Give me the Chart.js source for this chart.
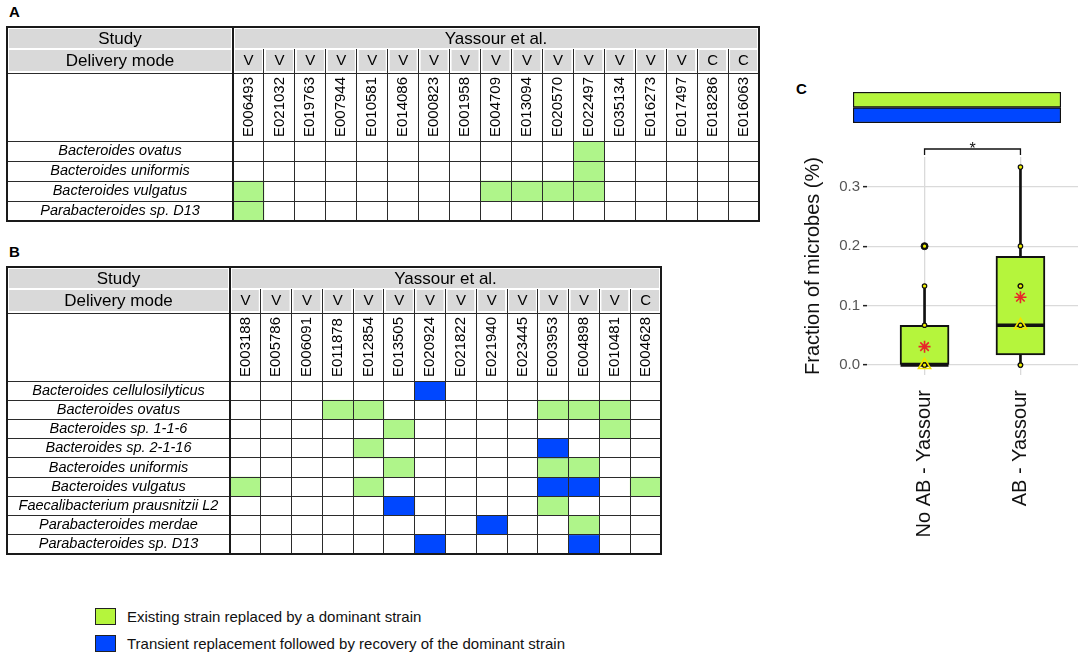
<!DOCTYPE html>
<html>
<head>
<meta charset="utf-8">
<script src="https://cdn.jsdelivr.net/npm/chart.js@4.4.1/dist/chart.umd.min.js"></script>
<style>
  html, body { margin: 0; padding: 0; background: #fff; }
  body { width: 1084px; height: 658px; position: relative; overflow: hidden; font-family: "Liberation Sans", Arial, sans-serif; }
  canvas { position: absolute; }
  .tag { position: absolute; font-weight: bold; font-size: 15px; color: #000; }
  .key { position: absolute; left: 95px; width: 19px; height: 15px; border: 1px solid #222; }
  .keytxt { position: absolute; left: 127px; font-size: 15px; line-height: 18px; color: #111; white-space: nowrap; }
</style>
</head>
<body>
<div class="tag" style="left:9px; top:3px;">A</div>
<div class="tag" style="left:9px; top:243px;">B</div>
<div class="tag" style="left:796px; top:80px;">C</div>

<canvas id="tabA" width="770" height="230" style="left:0; top:0;"></canvas>
<canvas id="tabB" width="680" height="310" style="left:0; top:255px;"></canvas>
<canvas id="strip" width="215" height="40" style="left:850px; top:88px;"></canvas>
<canvas id="box" width="304" height="530" style="left:780px; top:60px;"></canvas>

<div class="key" style="top:608px; background:#b5f53c;"></div>
<div class="keytxt" style="top:608px;">Existing strain replaced by a dominant strain</div>
<div class="key" style="top:635px; background:#0046ff;"></div>
<div class="keytxt" style="top:635px;">Transient replacement followed by recovery of the dominant strain</div>

<script>
Chart.defaults.font.family = '"Liberation Sans", Arial, sans-serif';
Chart.defaults.color = '#000';

// * Tabela A
const samplesA = ['E006493', 'E021032', 'E019763', 'E007944', 'E010581', 'E014086', 'E000823', 'E001958',
  'E004709', 'E013094', 'E020570', 'E022497', 'E035134', 'E016273', 'E017497', 'E018286', 'E016063'];
const deliveryA = ['V', 'V', 'V', 'V', 'V', 'V', 'V', 'V', 'V', 'V', 'V', 'V', 'V', 'V', 'V', 'C', 'C'];
const speciesA = ['Bacteroides ovatus', 'Bacteroides uniformis', 'Bacteroides vulgatus', 'Parabacteroides sp. D13'];
// 0 = nada, 1 = substituida por cepa dominante, 2 = substituicao transitoria
const statusA = [
  [0, 0, 0, 0, 0, 0, 0, 0, 0, 0, 0, 1, 0, 0, 0, 0, 0],
  [0, 0, 0, 0, 0, 0, 0, 0, 0, 0, 0, 1, 0, 0, 0, 0, 0],
  [1, 0, 0, 0, 0, 0, 0, 0, 1, 1, 1, 1, 0, 0, 0, 0, 0],
  [1, 0, 0, 0, 0, 0, 0, 0, 0, 0, 0, 0, 0, 0, 0, 0, 0]
];

// * Tabela B
const samplesB = ['E003188', 'E005786', 'E006091', 'E011878', 'E012854', 'E013505', 'E020924',
  'E021822', 'E021940', 'E023445', 'E003953', 'E004898', 'E010481', 'E004628'];
const deliveryB = ['V', 'V', 'V', 'V', 'V', 'V', 'V', 'V', 'V', 'V', 'V', 'V', 'V', 'C'];
const speciesB = ['Bacteroides cellulosilyticus', 'Bacteroides ovatus', 'Bacteroides sp. 1-1-6',
  'Bacteroides sp. 2-1-16', 'Bacteroides uniformis', 'Bacteroides vulgatus',
  'Faecalibacterium prausnitzii L2', 'Parabacteroides merdae', 'Parabacteroides sp. D13'];
const statusB = [
  [0, 0, 0, 0, 0, 0, 2, 0, 0, 0, 0, 0, 0, 0],
  [0, 0, 0, 1, 1, 0, 0, 0, 0, 0, 1, 1, 1, 0],
  [0, 0, 0, 0, 0, 1, 0, 0, 0, 0, 0, 0, 1, 0],
  [0, 0, 0, 0, 1, 0, 0, 0, 0, 0, 2, 0, 0, 0],
  [0, 0, 0, 0, 0, 1, 0, 0, 0, 0, 1, 1, 0, 0],
  [1, 0, 0, 0, 1, 0, 0, 0, 0, 0, 2, 2, 0, 1],
  [0, 0, 0, 0, 0, 2, 0, 0, 0, 0, 1, 0, 0, 0],
  [0, 0, 0, 0, 0, 0, 0, 0, 2, 0, 0, 1, 0, 0],
  [0, 0, 0, 0, 0, 0, 2, 0, 0, 0, 0, 2, 0, 0]
];
const studyName = 'Yassour et al.';

// * Painel C (boxplot)
const groups = ['No AB - Yassour', 'AB - Yassour'];
const q1 = [0, 0.017];
const q3 = [0.067, 0.183];
const medians = [0, 0.067];
const whiskerLo = [0, 0];
const whiskerHi = [0.133, 0.333];
const means = [0.031, 0.114];
const outliers = [[0.2], []];
const valuesNoAB = [0, 0, 0, 0.067, 0.133, 0.2];
const valuesAB = [0, 0, 0.067, 0.133, 0.133, 0.2, 0.333];
const yTicksC = [0, 0.1, 0.2, 0.3];

// faixa de cores acima do boxplot
const stripLabels = ['Existing strain replaced', 'Transient replacement'];
const stripValues = [1, 1];

const cellColors = ['rgba(0,0,0,0)', '#aff58a', '#0047ff'];
const boxGreen = '#b5f53c';
const stripBlue = '#0046ff';
const lineCol = '#2b2b2b';

// alinha linhas de 1px como o Chart.js faz
function crisp(p, w) {
  return Math.round(p - w / 2) + w / 2;
}

// tira o padding extra que o Chart.js reserva para os rotulos
function noPad(s) {
  s.paddingLeft = 0;
  s.paddingRight = 0;
  s.paddingTop = 0;
  s.paddingBottom = 0;
}

function makeTable(id, samples, delivery, species, status, geo) {
  const n = species.length;
  const cv = document.getElementById(id);

  // padding dos nomes para centralizar na coluna da esquerda
  const mctx = document.createElement('canvas').getContext('2d');
  mctx.font = 'italic 14.5px "Liberation Sans", Arial, sans-serif';
  let widest = 0;
  species.forEach(s => { widest = Math.max(widest, mctx.measureText(s).width); });
  const colLeftW = geo.split - geo.left;
  const namePad = (colLeftW - widest) / 2;

  const frame = {
    id: 'frame' + id,
    beforeDraw(chart) {
      const { ctx, chartArea: ca } = chart;
      const top = geo.headTop, y1 = top + geo.studyH;
      const L = geo.left, S = ca.left, R = ca.right;
      const colW = (R - S) / samples.length;
      ctx.save();
      ctx.fillStyle = '#d9d9d9';
      ctx.fillRect(L + 2, top + 2, S - L - 4, geo.studyH - 3);
      ctx.fillRect(S + 2, top + 2, R - S - 4, geo.studyH - 3);
      ctx.fillRect(L + 2, y1 + 1, S - L - 4, geo.modeH - 3);
      for (let j = 0; j < samples.length; j++) {
        ctx.fillRect(S + j * colW + 2, y1 + 1, colW - 4, geo.modeH - 3);
      }
      ctx.restore();
    },
    afterDraw(chart) {
      const { ctx, chartArea: ca, scales: { x, y } } = chart;
      const top = geo.headTop, y1 = top + geo.studyH, y2 = y1 + geo.modeH;
      const L = geo.left, S = ca.left, R = ca.right, B = ca.bottom;
      const colW = (R - S) / samples.length;
      ctx.save();
      ctx.strokeStyle = lineCol;
      ctx.lineWidth = 1;
      ctx.beginPath();
      for (let j = 1; j < samples.length; j++) {
        const px = crisp(S + j * colW, 1);
        ctx.moveTo(px, y1);
        ctx.lineTo(px, ca.top);
      }
      for (let r = 1; r < n; r++) {
        const py = crisp(y.getPixelForValue(r), 1);
        ctx.moveTo(L, py);
        ctx.lineTo(S, py);
      }
      ctx.moveTo(L, crisp(ca.top, 1));
      ctx.lineTo(R, crisp(ca.top, 1));
      ctx.moveTo(L, crisp(y2, 1));
      ctx.lineTo(R, crisp(y2, 1));
      ctx.stroke();

      ctx.strokeStyle = '#1a1a1a';
      ctx.lineWidth = 2;
      ctx.beginPath();
      ctx.moveTo(S, top);
      ctx.lineTo(S, B);
      ctx.stroke();
      ctx.strokeRect(L, top, R - L, B - top);

      // textos do cabecalho
      ctx.fillStyle = '#000';
      ctx.textAlign = 'center';
      ctx.textBaseline = 'middle';
      ctx.font = '17px "Liberation Sans", Arial, sans-serif';
      ctx.fillText('Study', (L + S) / 2, (top + y1) / 2 + 1);
      ctx.fillText(studyName, (S + R) / 2, (top + y1) / 2 + 1);
      ctx.fillText('Delivery mode', (L + S) / 2, (y1 + y2) / 2);
      ctx.font = '15px "Liberation Sans", Arial, sans-serif';
      delivery.forEach((d, j) => {
        ctx.fillText(d, x.getPixelForValue(j), (y1 + y2) / 2);
      });
      ctx.restore();
    }
  };

  return new Chart(cv, {
    type: 'bar',
    data: {
      labels: samples,
      datasets: species.map((sp, r) => ({
        label: sp,
        data: samples.map((s, j) => status[r][j] ? [r, r + 1] : null),
        backgroundColor: samples.map((s, j) => cellColors[status[r][j]]),
        borderWidth: 0,
        grouped: false,
        barPercentage: 1,
        categoryPercentage: 1
      }))
    },
    options: {
      responsive: false,
      animation: false,
      events: [],
      layout: {
        autoPadding: false,
        padding: {
          left: geo.left,
          right: cv.width - geo.right,
          top: geo.headTop + geo.studyH + geo.modeH,
          bottom: cv.height - geo.bottom
        }
      },
      scales: {
        x: {
          type: 'category',
          position: 'top',
          offset: true,
          grid: { offset: true, color: lineCol, lineWidth: 1, drawTicks: false, z: 1 },
          border: { display: false },
          ticks: {
            autoSkip: false, minRotation: 90, maxRotation: 90, padding: 4, labelOffset: 18,
            font: { size: 15 }, color: '#000'
          },
          afterFit: s => { s.height = geo.idH; noPad(s); }
        },
        y: {
          type: 'linear',
          min: 0,
          max: n,
          reverse: true,
          afterBuildTicks: s => {
            const t = [];
            for (let i = 0; i <= n; i++) {
              t.push({ value: i });
              if (i < n) t.push({ value: i + 0.5 });
            }
            s.ticks = t;
          },
          grid: {
            color: c => (c.tick && c.tick.value % 1 === 0) ? lineCol : 'rgba(0,0,0,0)',
            lineWidth: 1,
            drawTicks: false,
            z: 1
          },
          border: { display: false },
          ticks: {
            autoSkip: false,
            crossAlign: 'center',
            padding: namePad,
            font: { size: 14.5, style: 'italic' },
            color: '#000',
            callback: v => (v % 1) ? species[Math.floor(v)] : ''
          },
          afterFit: s => { s.width = colLeftW; noPad(s); }
        }
      },
      plugins: { legend: { display: false }, tooltip: { enabled: false } }
    },
    plugins: [frame]
  });
}

makeTable('tabA', samplesA, deliveryA, speciesA, statusA,
  { headTop: 27, studyH: 22, modeH: 24, idH: 68, left: 7, split: 233, right: 759, bottom: 221 });
makeTable('tabB', samplesB, deliveryB, speciesB, statusB,
  { headTop: 12, studyH: 22, modeH: 24, idH: 68, left: 7, split: 230, right: 661, bottom: 299 });

// * Faixa verde/azul
new Chart(document.getElementById('strip'), {
  type: 'bar',
  data: {
    labels: stripLabels,
    datasets: [{
      data: stripValues,
      backgroundColor: [boxGreen, stripBlue],
      borderColor: '#111',
      borderWidth: 1.5,
      borderSkipped: false,
      barPercentage: 1,
      categoryPercentage: 1
    }]
  },
  options: {
    indexAxis: 'y',
    responsive: false,
    animation: false,
    events: [],
    layout: { autoPadding: false, padding: { left: 3, right: 4, top: 4, bottom: 5 } },
    scales: { x: { display: false, min: 0, max: 1 }, y: { display: false } },
    plugins: { legend: { display: false }, tooltip: { enabled: false } }
  }
});

// * Boxplot
const bracket = {
  id: 'bracket',
  afterDraw(chart) {
    const { ctx, chartArea: ca, scales: { x } } = chart;
    const xa = x.getPixelForValue(1), xb = x.getPixelForValue(2);
    const yb = ca.top - 8;
    ctx.save();
    ctx.strokeStyle = '#111';
    ctx.lineWidth = 1.3;
    ctx.beginPath();
    ctx.moveTo(xa, yb + 6);
    ctx.lineTo(xa, yb);
    ctx.lineTo(xb, yb);
    ctx.lineTo(xb, yb + 6);
    ctx.stroke();
    ctx.fillStyle = '#111';
    ctx.font = '16px "Liberation Sans", Arial, sans-serif';
    ctx.textAlign = 'center';
    ctx.textBaseline = 'alphabetic';
    ctx.fillText('*', (xa + xb) / 2, yb + 5);
    ctx.restore();
  }
};

const pointsC = [valuesNoAB, valuesAB].flatMap((vals, i) => vals.map(v => ({ x: i + 1, y: v })));
const outlierPts = outliers.flatMap((vals, i) => vals.map(v => ({ x: i + 1, y: v })));

new Chart(document.getElementById('box'), {
  type: 'bar',
  data: {
    datasets: [
      {
        type: 'bar',
        data: groups.map((g, i) => ({ x: i + 1, y: [whiskerLo[i], whiskerHi[i]] })),
        backgroundColor: '#111',
        barThickness: 2,
        grouped: false,
        order: 6
      },
      {
        type: 'bar',
        data: groups.map((g, i) => ({ x: i + 1, y: [q1[i], q3[i]] })),
        backgroundColor: boxGreen,
        borderColor: '#111',
        borderWidth: 2,
        borderSkipped: false,
        barThickness: 49,
        grouped: false,
        order: 5
      },
      {
        type: 'scatter',
        data: groups.map((g, i) => ({ x: i + 1, y: medians[i] })),
        pointStyle: 'line',
        pointRadius: 24,
        pointBorderWidth: 3.5,
        pointBorderColor: '#111',
        order: 4
      },
      {
        type: 'scatter',
        data: outlierPts,
        pointRadius: 3.5,
        pointBackgroundColor: '#111',
        pointBorderColor: '#111',
        pointBorderWidth: 1,
        order: 3
      },
      {
        type: 'scatter',
        data: pointsC,
        pointRadius: 2.2,
        pointBackgroundColor: '#f2f200',
        pointBorderColor: '#111',
        pointBorderWidth: 1.2,
        order: 2
      },
      {
        type: 'scatter',
        data: groups.map((g, i) => ({ x: i + 1, y: medians[i] })),
        pointStyle: 'triangle',
        pointRadius: 7,
        pointBackgroundColor: 'rgba(0,0,0,0)',
        pointBorderColor: '#f0e400',
        pointBorderWidth: 1.6,
        order: 1
      },
      {
        type: 'scatter',
        data: groups.map((g, i) => ({ x: i + 1, y: means[i] })),
        pointStyle: 'star',
        pointRadius: 6,
        pointBorderColor: '#e8262a',
        pointBorderWidth: 1.6,
        order: 0
      }
    ]
  },
  options: {
    responsive: false,
    animation: false,
    events: [],
    layout: { autoPadding: false, padding: { left: 17, right: 6, top: 97, bottom: 35 } },
    scales: {
      x: {
        type: 'linear',
        min: 0.4,
        max: 2.6,
        offset: false,
        afterBuildTicks: s => { s.ticks = groups.map((g, i) => ({ value: i + 1 })); },
        ticks: {
          autoSkip: false,
          minRotation: 90,
          maxRotation: 90,
          padding: 15,
          font: { size: 20 },
          color: '#111',
          callback: v => groups[v - 1]
        },
        grid: { offset: false, color: '#dadada', lineWidth: 1.3, drawTicks: false },
        border: { display: false },
        afterFit: s => { s.height = 180; noPad(s); }
      },
      y: {
        type: 'linear',
        min: -0.0167,
        max: 0.35,
        afterBuildTicks: s => { s.ticks = yTicksC.map(v => ({ value: v })); },
        ticks: { font: { size: 15 }, color: '#555', padding: 3, callback: v => v.toFixed(1) },
        grid: { color: '#dadada', lineWidth: 1.3, tickColor: '#222', tickLength: 4, tickWidth: 1.5 },
        border: { display: false },
        title: {
          display: true,
          text: 'Fraction of microbes (%)',
          font: { size: 20 },
          color: '#111',
          padding: { top: 4, bottom: 2 }
        },
        afterFit: s => { s.width = 70; noPad(s); }
      }
    },
    plugins: { legend: { display: false }, tooltip: { enabled: false } }
  },
  plugins: [bracket]
});
</script>
</body>
</html>
